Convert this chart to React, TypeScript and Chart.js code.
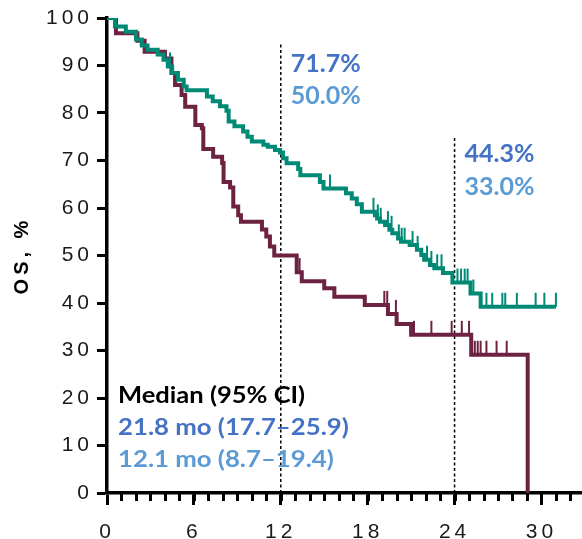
import React, { useEffect, useRef } from 'react';
import { Chart, registerables } from 'chart.js';

Chart.register(...registerables);

// ---- data ----
const xMin = 0;
const xMax = 32.8;
const xStep = 6;
const xMinorStep = 1;
const yMin = 0;
const yMax = 100;
const yStep = 10;

const armATimes = [0, 0.55, 1.3, 2.0, 2.4, 2.8, 3.5, 3.9, 4.2, 4.5, 4.9, 5.3, 5.5, 6.9, 7.3, 7.8, 8.25, 8.4, 8.8, 9.4, 9.7, 10.0, 10.8, 11.1, 11.6, 11.95, 12.15, 12.4, 13.2, 13.35, 14.7, 14.95, 16.5, 16.9, 17.25, 17.6, 18.5, 18.65, 18.85, 19.2, 19.5, 19.7, 20.1, 20.3, 20.9, 21.4, 21.7, 21.9, 22.3, 22.6, 23.2, 23.85, 25.1, 25.8, 31.0];
const armASurv = [100, 98.2, 97.1, 95.5, 94.2, 93.3, 92.3, 91.2, 89.8, 88.4, 87.0, 85.6, 84.8, 83.5, 82.5, 81.4, 80.5, 78.2, 77.2, 76.1, 75.0, 74.0, 73.3, 72.9, 72.2, 71.7, 70.5, 69.4, 68.2, 66.9, 65.5, 64.1, 63.1, 62.0, 60.8, 59.2, 58.5, 57.8, 57.1, 56.4, 55.4, 54.7, 53.6, 52.9, 52.2, 51.2, 50.1, 49.1, 48.0, 47.3, 46.3, 44.3, 42.0, 39.2, 39.2];
const armACensorTimes = [4.35, 15.4, 18.4, 18.7, 18.9, 19.4, 19.65, 20.15, 20.35, 20.55, 21.1, 21.45, 22.1, 22.4, 22.8, 23.1, 24.2, 24.45, 24.7, 24.9, 25.3, 26.2, 26.6, 27.3, 27.5, 28.3, 29.6, 30.2, 31.0];

const armBTimes = [0, 0.62, 2.1, 2.6, 4.0, 4.45, 4.7, 5.15, 5.4, 6.1, 6.55, 6.65, 7.33, 7.95, 8.05, 8.5, 8.72, 9.06, 9.25, 10.7, 11.0, 11.25, 11.55, 13.1, 13.45, 15.0, 15.7, 17.8, 19.4, 20.0, 21.0, 25.15, 29.05];
const armBSurv = [100, 96.8, 95.2, 92.9, 91.5, 88.4, 85.9, 83.8, 81.3, 77.5, 76.8, 72.4, 70.8, 69.5, 65.5, 64.3, 60.3, 58.5, 57.1, 55.5, 54.0, 51.9, 50.0, 46.5, 44.6, 43.1, 41.3, 39.6, 37.7, 35.6, 33.3, 29.1, 0];
const armBCensorTimes = [13.3, 19.15, 19.35, 19.95, 21.2, 22.4, 23.8, 24.5, 25.0, 25.4, 25.6, 25.8, 26.2, 26.9, 27.6];

const landmarkTimes = [12, 24];
const landmarkTops = [94.7, 75.0];
const landmarkArmA = ['71.7%', '44.3%'];
const landmarkArmB = ['50.0%', '33.0%'];

const medianTitle = 'Median (95% CI)';
const medianArmA = '21.8 mo (17.7–25.9)';
const medianArmB = '12.1 mo (8.7–19.4)';
const yAxisTitle = 'OS, %';

// ---- styles ----
const TEAL = '#008a76';
const MAROON = '#6c2240';
const BLUE = '#4472c4';
const LIGHTBLUE = '#5b9bd5';

function survAt(times: number[], surv: number[], t: number) {
  let s = surv[0];
  for (let i = 0; i < times.length; i++) {
    if (times[i] <= t) s = surv[i];
  }
  return s;
}

const TICK_HALF_PX = 7;

export default function App() {
  const ref = useRef<HTMLCanvasElement | null>(null);

  useEffect(() => {
    if (!ref.current) return;
    const pxPerUnitY = 475 / (yMax - yMin);
    const tickOffset = TICK_HALF_PX / pxPerUnitY;

    const curveA = armATimes.map((t, i) => ({ x: t, y: armASurv[i] }));
    const curveB = armBTimes.map((t, i) => ({ x: t, y: armBSurv[i] }));
    const censA = armACensorTimes.map((t) => ({ x: t, y: survAt(armATimes, armASurv, t) + tickOffset }));
    const censB = armBCensorTimes.map((t) => ({ x: t, y: survAt(armBTimes, armBSurv, t) + tickOffset }));

    const landmarkSets = landmarkTimes.map((t, i) => ({
      type: 'line' as const,
      data: [{ x: t, y: 0 }, { x: t, y: landmarkTops[i] }],
      borderColor: '#000',
      borderWidth: 1.5,
      borderDash: [3, 2.5],
      pointRadius: 0,
      fill: false,
      clip: false as any,
    }));

    const drawScaledText = (ctx: CanvasRenderingContext2D, text: string, x: number, y: number, sx: number) => {
      ctx.save();
      ctx.translate(x, y);
      ctx.scale(sx, 1);
      ctx.fillText(text, 0, 0);
      ctx.restore();
    };

    const extrasPlugin = {
      id: 'extras',
      beforeDraw(chart: any) {
        chart.ctx.letterSpacing = '4px';
      },
      afterDraw(chart: any) {
        const { ctx, chartArea } = chart;
        const xs = chart.scales.x;
        ctx.save();
        ctx.letterSpacing = '0px';

        // minor ticks on the time axis
        ctx.strokeStyle = '#000';
        ctx.lineWidth = 3;
        ctx.lineCap = 'butt';
        ctx.setLineDash([]);
        ctx.beginPath();
        for (let t = xMin + xMinorStep; t <= xMax; t += xMinorStep) {
          const px = Math.round(xs.getPixelForValue(t)) + 0.5;
          ctx.moveTo(px, chartArea.bottom);
          ctx.lineTo(px, chartArea.bottom + 8);
        }
        ctx.stroke();

        ctx.textAlign = 'left';
        ctx.textBaseline = 'alphabetic';
        ctx.font = 'bold 25px Lato';
        const xa = xs.getPixelForValue(landmarkTimes[0]) + 10;
        ctx.fillStyle = BLUE;
        ctx.fillText(landmarkArmA[0], xa, 72);
        ctx.fillStyle = LIGHTBLUE;
        ctx.fillText(landmarkArmB[0], xa, 104);
        const xb = xs.getPixelForValue(landmarkTimes[1]) + 10;
        ctx.fillStyle = BLUE;
        ctx.fillText(landmarkArmA[1], xb, 162);
        ctx.fillStyle = LIGHTBLUE;
        ctx.fillText(landmarkArmB[1], xb, 195);

        ctx.font = 'bold 23px Lato';
        ctx.fillStyle = '#000';
        drawScaledText(ctx, medianTitle, 118, 403, 1.11);
        ctx.fillStyle = BLUE;
        drawScaledText(ctx, medianArmA, 118, 435, 1.12);
        ctx.fillStyle = LIGHTBLUE;
        drawScaledText(ctx, medianArmB, 118, 467, 1.12);
        ctx.restore();
      },
    };

    const chart = new Chart(ref.current, {
      type: 'line',
      data: {
        datasets: [
          {
            data: curveA,
            borderColor: TEAL,
            borderWidth: 4,
            stepped: true,
            pointRadius: 0,
            fill: false,
            borderJoinStyle: 'miter',
            borderCapStyle: 'butt',
          },
          {
            data: censA,
            showLine: false,
            pointStyle: 'line',
            pointRotation: 90,
            pointRadius: 7,
            pointBorderWidth: 2,
            pointBorderColor: TEAL,
            pointBackgroundColor: TEAL,
            clip: false as any,
          },
          {
            data: curveB,
            borderColor: MAROON,
            borderWidth: 4,
            stepped: true,
            pointRadius: 0,
            fill: false,
            borderJoinStyle: 'miter',
            borderCapStyle: 'butt',
          },
          {
            data: censB,
            showLine: false,
            pointStyle: 'line',
            pointRotation: 90,
            pointRadius: 7,
            pointBorderWidth: 2,
            pointBorderColor: MAROON,
            pointBackgroundColor: MAROON,
            clip: false as any,
          },
          ...landmarkSets,
        ] as any,
      },
      options: {
        animation: false,
        responsive: true,
        maintainAspectRatio: false,
        layout: { autoPadding: false, padding: { top: 18, right: 0, bottom: 0, left: 0 } },
        plugins: { legend: { display: false }, tooltip: { enabled: false } },
        events: [],
        scales: {
          x: {
            type: 'linear',
            min: xMin,
            max: xMax,
            ticks: {
              stepSize: xStep,
              includeBounds: false,
              autoSkip: false,
              maxRotation: 0,
              color: '#1a1a1a',
              font: { family: 'Liberation Sans', size: 21 },
              padding: 15,
            },
            grid: { drawOnChartArea: false, drawTicks: true, tickLength: 12, tickWidth: 3, tickColor: '#000' },
            border: { display: true, width: 3.5, color: '#000' },
            afterFit: (s: any) => { s.height = 46; s.paddingLeft = 0; s.paddingRight = 0; },
          },
          y: {
            type: 'linear',
            min: yMin,
            max: yMax,
            ticks: {
              stepSize: yStep,
              color: '#1a1a1a',
              font: { family: 'Liberation Sans', size: 21 },
              padding: 4,
            },
            grid: { drawOnChartArea: false, drawTicks: true, tickLength: 10, tickWidth: 3, tickColor: '#000' },
            border: { display: true, width: 3.5, color: '#000' },
            title: {
              display: true,
              text: yAxisTitle,
              color: '#000',
              font: { family: 'Liberation Sans', size: 20, weight: 'bold' },
              padding: { top: 10, bottom: 0 },
            },
            afterFit: (s: any) => { s.width = 107; },
          },
        } as any,
      },
      plugins: [extrasPlugin],
    });

    if ((document as any).fonts && (document as any).fonts.load) {
      (document as any).fonts.load('bold 25px Lato').then(() => chart.update()).catch(() => {});
    }

    return () => chart.destroy();
  }, []);

  return (
    <div style={{ position: 'fixed', left: 0, top: 0, width: 582, height: 539, background: '#fff' }}>
      <canvas ref={ref} />
    </div>
  );
}
